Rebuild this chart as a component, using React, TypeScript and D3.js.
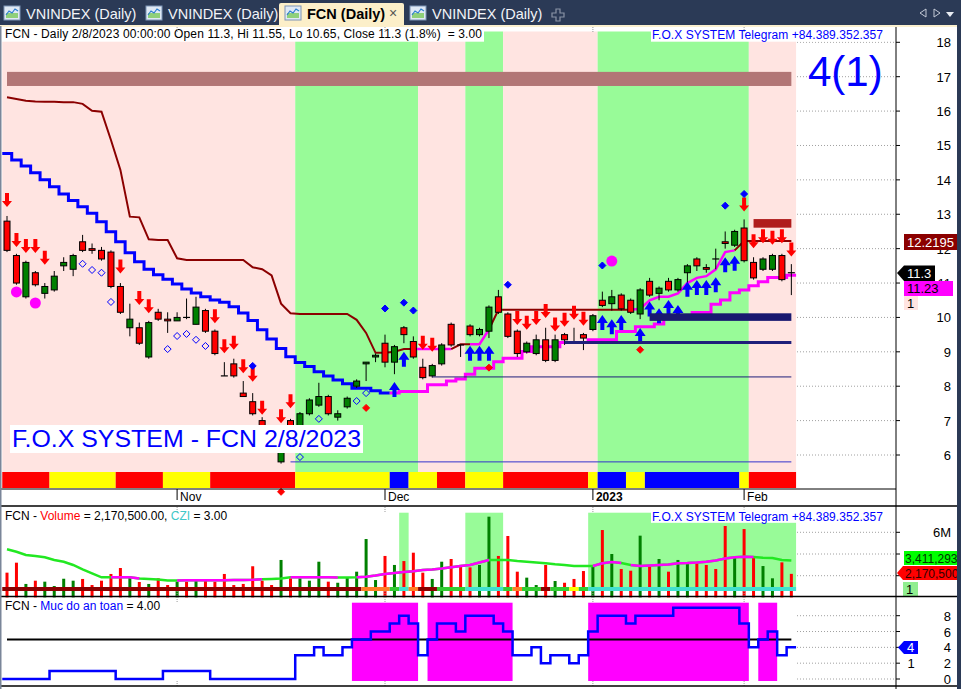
import React from "react";
import * as d3 from "d3";

const FONT = "'Liberation Sans', Arial, Helvetica, sans-serif";

// FCN daily bars, 6 Oct 2022 .. 8 Feb 2023 (thousand VND)
const opens = [12.8, 11.8, 10.6, 11.3, 10.7, 10.8, 11.5, 11.4, 12.2, 12.0, 11.95, 11.9, 10.9, 9.7, 9.7, 8.85, 10.15, 9.95, 9.9, 10.0, 9.8, 10.2, 9.6, 8.3, 8.65, 7.8, 7.55, 7.0, 6.8, 5.8, 7.0, 6.65, 7.2, 7.45, 7.7, 7.1, 7.4, 8.0, 8.65, 8.85, 9.25, 8.7, 9.7, 9.3, 8.55, 8.3, 8.65, 9.8, 9.2, 9.75, 9.5, 9.6, 10.6, 10.1, 9.6, 9.0, 8.95, 9.35, 8.75, 9.5, 9.25, 9.5, 9.65, 10.5, 10.4, 10.65, 10.5, 10.1, 11.05, 10.7, 11.05, 10.8, 11.3, 11.7, 11.45, 11.7, 12.2, 12.1, 12.6, 11.6, 11.4, 11.4, 11.8, 11.3];
const highs = [12.95, 11.85, 11.65, 11.35, 11.0, 11.35, 11.75, 11.85, 12.4, 12.15, 12.05, 11.95, 11.0, 10.4, 9.85, 9.9, 10.25, 10.15, 10.15, 10.55, 10.6, 10.25, 9.65, 8.7, 8.8, 8.15, 7.8, 7.1, 6.85, 6.2, 7.05, 7.25, 7.65, 8.1, 7.75, 7.3, 7.7, 8.2, 8.7, 8.95, 9.5, 9.2, 9.75, 9.45, 8.8, 8.65, 9.25, 9.85, 9.2, 9.8, 9.7, 10.35, 10.8, 10.15, 9.65, 9.3, 9.5, 9.7, 9.5, 9.55, 9.7, 9.55, 10.1, 10.75, 10.8, 10.7, 10.55, 10.85, 11.15, 10.9, 11.15, 11.15, 11.55, 11.75, 11.55, 12.0, 12.5, 12.55, 12.85, 11.75, 11.75, 11.85, 11.85, 11.55];
const lows = [11.9, 10.95, 10.55, 10.9, 10.55, 10.75, 11.35, 11.2, 11.9, 11.85, 11.65, 10.85, 10.1, 9.45, 9.2, 8.8, 9.9, 9.55, 9.9, 9.95, 9.8, 9.55, 8.9, 8.3, 8.25, 7.7, 7.15, 6.7, 6.3, 5.75, 6.6, 6.6, 7.15, 7.4, 7.15, 7.0, 7.35, 7.95, 8.15, 8.7, 8.55, 8.35, 9.25, 8.8, 8.2, 8.25, 8.6, 9.15, 8.85, 9.45, 9.45, 9.4, 10.1, 9.4, 8.85, 8.95, 8.9, 8.7, 8.7, 9.2, 9.25, 9.05, 9.6, 10.3, 10.2, 10.2, 10.1, 9.95, 10.6, 10.5, 10.75, 10.75, 10.8, 11.35, 11.3, 11.4, 12.0, 12.05, 11.6, 11.1, 11.35, 11.35, 11.05, 10.65];
const closes = [11.95, 11.0, 11.6, 10.95, 10.9, 11.2, 11.6, 11.8, 11.95, 11.95, 11.7, 10.9, 10.15, 9.95, 9.25, 9.85, 9.95, 9.9, 10.0, 10.0, 10.3, 9.6, 8.95, 8.3, 8.3, 7.7, 7.2, 6.75, 6.4, 6.1, 6.65, 7.2, 7.6, 7.7, 7.2, 7.2, 7.65, 8.15, 8.7, 8.9, 8.7, 9.15, 9.5, 8.85, 8.25, 8.6, 9.2, 9.2, 9.2, 9.5, 9.65, 10.3, 10.15, 9.45, 8.95, 9.25, 9.35, 8.75, 9.35, 9.35, 9.25, 9.4, 10.05, 10.35, 10.6, 10.25, 10.15, 10.8, 10.65, 10.85, 10.8, 11.1, 11.5, 11.5, 11.4, 11.7, 12.15, 12.5, 11.65, 11.15, 11.7, 11.8, 11.1, 11.3];
// volume, millions of shares
const volumes = [2.28, 3.2, 1.24, 1.54, 1.45, 1.05, 1.72, 1.54, 1.7, 1.14, 1.54, 2.16, 2.71, 1.97, 1.42, 1.24, 1.76, 1.14, 1.45, 1.45, 1.67, 1.67, 1.45, 2.16, 1.14, 1.24, 2.87, 1.54, 1.14, 3.45, 1.76, 1.76, 1.54, 3.29, 1.45, 1.35, 1.79, 2.37, 5.38, 1.6, 3.82, 2.99, 3.35, 4.12, 2.28, 1.7, 3.29, 3.54, 2.99, 2.77, 2.99, 7.44, 3.82, 5.66, 2.37, 1.82, 1.14, 2.99, 1.51, 1.35, 1.7, 2.43, 2.89, 6.21, 4.0, 2.62, 2.46, 5.69, 2.89, 3.54, 2.37, 3.45, 3.14, 3.2, 2.99, 2.62, 6.58, 3.66, 6.3, 3.7, 2.89, 1.76, 3.23, 2.1705];
const volumeAvg = [4.43, 4.21, 3.91, 3.82, 3.7, 3.45, 3.29, 2.99, 2.59, 2.22, 1.85, 1.85, 1.85, 1.85, 1.74, 1.7, 1.65, 1.56, 1.56, 1.58, 1.58, 1.58, 1.58, 1.58, 1.6, 1.6, 1.62, 1.67, 1.7, 1.74, 1.85, 1.85, 1.85, 1.85, 1.85, 1.83, 1.83, 1.85, 1.91, 2.02, 2.16, 2.25, 2.34, 2.4, 2.53, 2.58, 2.66, 2.77, 2.89, 2.99, 3.22, 3.45, 3.45, 3.45, 3.35, 3.29, 3.22, 3.14, 3.05, 2.99, 2.89, 2.89, 2.89, 3.14, 3.26, 3.17, 2.99, 2.89, 2.94, 2.99, 3.03, 3.14, 3.17, 3.22, 3.29, 3.4, 3.59, 3.7, 3.75, 3.72, 3.66, 3.63, 3.45, 3.41];
const volumeAvgRising = [[11, 14], [18, 27], [30, 35], [37, 51], [62, 65], [66, 79]];

// trailing stops
const upperStop = [16.4, 16.35, 16.3, 16.28, 16.27, 16.27, 16.26, 16.26, 16.21, 16.01, 15.98, 15.16, 14.29, 12.93, 12.91, 12.27, 12.25, 12.25, 11.72, 11.67, 11.67, 11.67, 11.67, 11.67, 11.67, 11.67, 11.46, 11.4, 11.22, 10.4, 10.12, 10.1, 10.1, 10.1, 10.1, 10.1, 10.1, 9.93, 9.55, 8.97, 8.97, 9.0, 9.08, 9.08, 9.08, 9.08, 9.08, 9.08, 9.22, 9.22, 9.22, 9.65, 10.22, 10.22, 10.22, 10.22, 10.22, 10.22, 10.22, 10.22, 10.22, 10.22, 10.22, 10.22, 10.22, 10.22, 10.22, 10.25, 10.5, 10.6, 10.6, 10.7, 11.0, 11.15, 11.2, 11.4, 11.9, 11.95, 12.22, 12.22, 12.22, 12.22, 12.22, 12.22];
const upperStopState: [string, number][] = [["M", 44], ["P", 4], ["M", 2], ["P", 2], ["M", 15], ["P", 11], ["M", 6]];
const lowerStop = [14.77, 14.58, 14.4, 14.21, 14.0, 13.8, 13.59, 13.4, 13.22, 13.03, 12.78, 12.49, 12.2, 11.88, 11.62, 11.4, 11.24, 11.11, 10.97, 10.83, 10.71, 10.6, 10.51, 10.44, 10.31, 10.13, 9.91, 9.64, 9.37, 9.1, 8.86, 8.69, 8.57, 8.42, 8.3, 8.18, 8.07, 7.94, 7.94, 7.87, 7.8, 7.8, 7.85, 7.85, 7.85, 8.04, 8.04, 8.15, 8.21, 8.35, 8.52, 8.52, 8.71, 8.81, 8.81, 9.01, 9.15, 9.15, 9.15, 9.27, 9.27, 9.27, 9.35, 9.35, 9.35, 9.59, 9.59, 9.73, 9.73, 9.81, 10.02, 10.02, 10.02, 10.14, 10.14, 10.38, 10.51, 10.72, 10.8, 10.92, 11.04, 11.16, 11.16, 11.23];
const lowerStopFlip = 41;

// signals: [bar, price]
const sellArrows = [[0, 13.21], [1, 12.05], [2, 11.87], [3, 11.87], [4, 11.53], [12, 11.28], [14, 10.36], [15, 10.12], [22, 9.83], [23, 8.96], [24, 9.06], [25, 8.38], [26, 8.13], [27, 7.17], [29, 6.92], [30, 7.36], [44, 9.06], [45, 9.0], [54, 9.78], [55, 9.64], [56, 9.78], [57, 9.98], [58, 9.59], [59, 9.73], [60, 9.93], [61, 9.76], [78, 13.08], [79, 12.01], [80, 12.16], [81, 12.11], [82, 12.16], [83, 11.77]];
const buyArrows = [[41, 8.12], [42, 9.0], [49, 9.18], [50, 9.18], [51, 9.18], [63, 10.07], [64, 9.95], [65, 10.07], [67, 9.69], [68, 10.46], [69, 10.27], [70, 10.51], [71, 10.36], [72, 11.04], [73, 11.09], [74, 11.09], [75, 11.17], [76, 11.75], [77, 11.79]];
const hollowDiamonds = [[8, 11.56], [9, 11.38], [10, 11.3], [11, 10.45], [17, 9.08], [18, 9.46], [19, 9.52], [20, 9.35], [21, 9.17], [31, 5.94], [33, 7.05], [37, 7.57], [38, 7.8]];
const blueDots = [[26, 8.59], [40, 10.26], [42, 10.43], [43, 10.2], [53, 10.95], [63, 11.51], [76, 13.25], [78, 13.59]];
const redDots = [[29, 4.93], [38, 7.37], [51, 8.54], [67, 9.06]];
const magentaDots = [[1, 10.74], [3, 10.42], [64, 11.64]];

// horizontal zones: [fromBar, toBar, top, bottom]
const topZone = [0, 83, 17.14, 16.73];
const resistZone = [79, 83, 12.86, 12.61];
const supportZone = [68, 83, 10.12, 9.9];
const supportLines = [[59, 83, 9.27, 3], [45, 83, 8.27, 1], [30, 83, 5.8, 1]];

const greenZones = [[31, 43], [49, 52], [63, 78]];
const trendStrip: [string, number][] = [["R", 5], ["Y", 7], ["R", 5], ["Y", 5], ["R", 9], ["Y", 10], ["B", 2], ["Y", 3], ["R", 3], ["Y", 4], ["R", 9], ["Y", 1], ["B", 3], ["Y", 2], ["B", 10], ["Y", 1], ["R", 5]];
const volumeStrip: [string, number][] = [["D", 38], ["O", 3], ["G", 1], ["C", 1], ["O", 1], ["D", 2], ["G", 3], ["C", 4], ["G", 1], ["O", 1], ["G", 2], ["D", 1], ["G", 2], ["Y", 1], ["G", 1], ["C", 22]];

// "Muc do an toan" safety level
const safety = [0, 0, 0, 0, 0, 1, 1, 1, 1, 1, 1, 1, 0, 0, 0, 0, 0, 1, 1, 1, 1, 1, 0, 0, 0, 0, 0, 0, 0, 0, 0, 3, 3, 4, 3, 3, 4, 5, 5, 6, 6, 7, 8, 7, 3, 5, 7, 7, 6, 8, 8, 8, 7, 6, 3, 3, 4, 2, 3, 3, 2, 3, 6, 8, 8, 8, 7, 8, 8, 8, 8, 9, 9, 9, 9, 9, 9, 9, 7, 4, 5, 6, 3, 4];
const safetyLine = 5;

const dateTicks = [18, 40, 62, 78];
const dateLabels = ["Nov", "Dec", "2023", "Feb"];
const priceTicks = [6, 7, 8, 9, 10, 11, 12, 13, 14, 15, 16, 17, 18];
const volumeTicks = [2, 4, 6];
const volumeTickLabels = ["", "", "6M"]; // 2M / 4M sit under the value tags
const safetyTicks = [0, 2, 4, 6, 8];

const tabs = [
  { label: "VNINDEX (Daily)", x: 4, active: false },
  { label: "VNINDEX (Daily)", x: 146, active: false },
  { label: "FCN (Daily)", x: 285, active: true },
  { label: "VNINDEX (Daily)", x: 410, active: false },
];

const STRIP_COL: Record<string, string> = { R: "#ff0000", Y: "#ffff00", B: "#0000ff", D: "#8b0000", O: "#ff7f27", G: "#32cd32", C: "#40e0d0" };
const expand = (spec: [string, number][]) => spec.flatMap(([c, n]) => Array(n).fill(c));
const runsOf = (arr: string[]) => {
  const out: { c: string; a: number; b: number }[] = [];
  arr.forEach((c, i) => {
    const last = out[out.length - 1];
    if (last && last.c === c) last.b = i;
    else out.push({ c, a: i, b: i });
  });
  return out;
};

const TabIcon = ({ x }: { x: number }) => (
  <g>
    <rect x={x} y={6} width={16} height={14} fill="#dfe9f5" stroke="#7d94b5" />
    <rect x={x + 2} y={13} width={12} height={5} fill="#8fd07a" />
    <polyline points={`${x + 2},15 ${x + 5},11 ${x + 8},13 ${x + 11},9 ${x + 14},11`} fill="none" stroke="#2e7fd0" strokeWidth={1.2} />
  </g>
);

export default function App() {
  const N = closes.length;
  const x = d3.scaleLinear().domain([0, N - 1]).range([7, 791.35]);
  const half = (x(1) - x(0)) / 2;
  const yP = d3.scaleLinear().domain([6, 18]).range([455, 42.3]);
  const yV = d3.scaleLinear().domain([0, 6]).range([597.4, 532.3]);
  const yS = d3.scaleLinear().domain([0, 8]).range([679, 615.7]);

  const stepPts = (vals: number[], a: number, b: number, y: (v: number) => number) => {
    const pts: [number, number][] = [];
    for (let i = a; i <= b; i++) {
      pts.push([x(i) - half, y(vals[i])], [x(i) + half, y(vals[i])]);
    }
    return d3.line()(pts) || "";
  };
  const segPath = (vals: number[], a: number, b: number, y: (v: number) => number) => {
    const pts: [number, number][] = [];
    for (let i = Math.max(0, a - 1); i <= b; i++) pts.push([x(i), y(vals[i])]);
    return d3.line()(pts) || "";
  };

  const stateRuns = runsOf(expand(upperStopState));
  const stripRuns = runsOf(expand(trendStrip));
  const volRuns = runsOf(expand(volumeStrip));
  const bandRuns = runsOf(closes.map((_, i) => (greenZones.some(([a, b]) => i >= a && i <= b) ? "g" : "p")));
  const safetyRuns = runsOf(safety.map((v) => (v >= safetyLine ? "m" : "-")));

  const AX = 896;
  const gridX1 = 797;
  const lbl = { fontFamily: FONT, fontSize: 13, fill: "#000" } as const;

  const downArrow = (cx: number, ty: number) =>
    `M${cx},${ty} L${cx - 5},${ty - 6} L${cx - 2},${ty - 6} L${cx - 2},${ty - 14} L${cx + 2},${ty - 14} L${cx + 2},${ty - 6} L${cx + 5},${ty - 6} Z`;
  const upArrow = (cx: number, ty: number) =>
    `M${cx},${ty} L${cx - 5.5},${ty + 8} L${cx - 2},${ty + 8} L${cx - 2},${ty + 15} L${cx + 2},${ty + 15} L${cx + 2},${ty + 8} L${cx + 5.5},${ty + 8} Z`;
  const diamond = (cx: number, cy: number, r: number) => `M${cx},${cy - r} L${cx + r},${cy} L${cx},${cy + r} L${cx - r},${cy} Z`;

  return (
    <div>
      <style>{`body{margin:0;background:#fff}`}</style>
      <svg width={961} height={689} style={{ display: "block" }} fontFamily={FONT}>
        <rect x={0} y={0} width={961} height={689} fill="#fff" />

        {/* ---------- tab bar ---------- */}
        <rect x={0} y={0} width={961} height={26} fill="#2b3a56" />
        <rect x={0} y={25} width={961} height={2} fill="#fbf0cf" />
        {tabs.map((t) => (
          <g key={t.x}>
            {t.active && <path d={`M${t.x - 6},27 L${t.x - 6},5 Q${t.x - 6},3 ${t.x - 4},3 L${t.x + 117},3 Q${t.x + 119},3 ${t.x + 119},5 L${t.x + 119},27 Z`} fill="#fcefc9" />}
            <TabIcon x={t.x} />
            <text x={t.x + 22} y={19} fontSize={14.5} fontWeight={t.active ? 700 : 400} fill={t.active ? "#000" : "#f2f4f8"}>
              {t.label}
            </text>
            {t.active && (
              <text x={t.x + 104} y={18} fontSize={14} fill="#555">
                ×
              </text>
            )}
          </g>
        ))}
        <path d="M552,9 h4 v-4 h4 v4 h4 v4 h-4 v4 h-4 v-4 h-4 Z" fill="none" stroke="#8a93a6" strokeWidth={1.2} transform="translate(0,4)" />
        <path d="M926,9 L920,13 L926,17 Z" fill="none" stroke="#c4cad6" />
        <path d="M934,9 L940,13 L934,17 Z" fill="none" stroke="#c4cad6" />
        <path d="M946,12 L954,12 L950,17 Z" fill="#e8ecf2" />

        {/* ---------- price pane ---------- */}
        {bandRuns.map((r) => (
          <rect key={r.a} x={x(r.a) - half} y={31.5} width={x(r.b) - x(r.a) + 2 * half} height={472 - 31.5} fill={r.c === "g" ? "#98fb98" : "#ffe4e1"} />
        ))}
        {priceTicks.map((t) => (
          <line key={t} x1={gridX1} x2={AX} y1={yP(t)} y2={yP(t)} stroke="#a0a0a0" strokeDasharray="1,2" />
        ))}
        <rect x={x(topZone[0])} y={yP(topZone[2])} width={x(topZone[1]) - x(topZone[0])} height={yP(topZone[3]) - yP(topZone[2])} fill="#b27676" />

        {/* lower trailing stop: blue in downtrend, magenta after flip */}
        <path d={stepPts(lowerStop, 0, lowerStopFlip - 1, yP)} fill="none" stroke="#0000ff" strokeWidth={3} />
        <path d={stepPts(lowerStop, lowerStopFlip, N - 1, yP)} fill="none" stroke="#ff00ff" strokeWidth={3} />
        {/* upper stop line */}
        {stateRuns.map((r) => (
          <path key={r.a} d={segPath(upperStop, r.a, r.b, yP)} fill="none" stroke={r.c === "M" ? "#8b0000" : "#ff00ff"} strokeWidth={r.c === "M" ? 2 : 2.5} />
        ))}

        {/* candles */}
        {closes.map((c, i) => {
          const o = opens[i];
          const up = c > o;
          const top = yP(Math.max(o, c));
          const bot = yP(Math.min(o, c));
          return (
            <g key={i}>
              <line x1={x(i)} x2={x(i)} y1={yP(highs[i])} y2={yP(lows[i])} stroke="#000" />
              {bot - top < 1 ? (
                <line x1={x(i) - 3.5} x2={x(i) + 3.5} y1={top} y2={top} stroke="#000" strokeWidth={1.2} />
              ) : (
                <rect x={x(i) - 3} y={top} width={6} height={bot - top} fill={up ? "#008000" : "#ff0000"} stroke="#000" />
              )}
            </g>
          );
        })}

        {sellArrows.map(([i, v]) => (
          <path key={"s" + i} d={downArrow(x(i), yP(v))} fill="#ff0000" />
        ))}
        {buyArrows.map(([i, v]) => (
          <path key={"b" + i} d={upArrow(x(i), yP(v))} fill="#0000ff" />
        ))}
        {hollowDiamonds.map(([i, v]) => (
          <path key={"h" + i} d={diamond(x(i), yP(v), 3.5)} fill="none" stroke="#0000ff" />
        ))}
        {blueDots.map(([i, v]) => (
          <path key={"bd" + i} d={diamond(x(i), yP(v), 3.5)} fill="#0000ff" stroke="#0000ff" />
        ))}
        {redDots.map(([i, v]) => (
          <path key={"rd" + i} d={diamond(x(i), yP(v), 3.5)} fill="#ff0000" stroke="#ff0000" />
        ))}
        {magentaDots.map(([i, v]) => (
          <circle key={"m" + i} cx={x(i)} cy={yP(v)} r={5.5} fill="#ff00ff" />
        ))}

        {/* support / resistance zones */}
        <rect x={x(resistZone[0])} y={yP(resistZone[2])} width={x(resistZone[1]) - x(resistZone[0])} height={yP(resistZone[3]) - yP(resistZone[2])} fill="#b01c1c" />
        <rect x={x(supportZone[0])} y={yP(supportZone[2])} width={x(supportZone[1]) - x(supportZone[0])} height={yP(supportZone[3]) - yP(supportZone[2])} fill="#191970" />
        {supportLines.map(([a, b, v, w], k) => (
          <line key={k} x1={x(a)} x2={x(b)} y1={yP(v)} y2={yP(v)} stroke={k === 2 ? "#3333cc" : "#1f1f7a"} strokeWidth={w} />
        ))}

        {/* trend strip */}
        {stripRuns.map((r) => (
          <rect key={r.a} x={x(r.a) - half} y={472} width={x(r.b) - x(r.a) + 2 * half} height={16} fill={STRIP_COL[r.c]} />
        ))}

        {/* captions */}
        <rect x={0} y={27} width={484} height={14.7} fill="#fff" />
        <text x={5} y={38} fontSize={12} fill="#000" textLength={477} lengthAdjust="spacing">
          FCN - Daily 2/8/2023 00:00:00 Open 11.3, Hi 11.55, Lo 10.65, Close 11.3 (1.8%){"\u00a0\u00a0"}= 3.00
        </text>
        <rect x={651} y={28} width={233} height={13.7} fill="#fff" />
        <text x={652} y={39} fontSize={12} fill="#0000ff" textLength={231} lengthAdjust="spacing">
          F.O.X SYSTEM Telegram +84.389.352.357
        </text>
        <text x={808} y={86} fontSize={42} fill="#0000ff">
          4(1)
        </text>
        <rect x={10} y={425} width={353} height={28} fill="#fff" />
        <text x={12} y={447} fontSize={24} fill="#0000ff" textLength={349} lengthAdjust="spacingAndGlyphs">
          F.O.X SYSTEM - FCN 2/8/2023
        </text>

        {/* date axis */}
        <line x1={0} x2={AX} y1={489} y2={489} stroke="#000" />
        {dateTicks.map((i, k) => (
          <g key={i}>
            <line x1={x(i)} x2={x(i)} y1={489} y2={500} stroke="#000" />
            <line x1={x(i)} x2={x(i)} y1={27} y2={32} stroke="#999" strokeDasharray="1,1" />
            <text x={x(i) + 3} y={501} fontSize={12} fontWeight={dateLabels[k] === "2023" ? 700 : 400}>
              {dateLabels[k]}
            </text>
          </g>
        ))}

        {/* price axis */}
        {priceTicks.map((t) => (
          <g key={t}>
            <line x1={AX} x2={AX + 4} y1={yP(t)} y2={yP(t)} stroke="#000" />
            <text x={951} y={yP(t) + 5} textAnchor="end" {...lbl}>
              {t}
            </text>
          </g>
        ))}
        <rect x={904} y={234} width={53} height={16} fill="#8b0000" />
        <text x={907} y={247} {...lbl} fill="#fff">
          12.2195
        </text>
        <path d="M897,273 L904,265.5 L935,265.5 L935,281 L904,281 Z" fill="#000" />
        <text x={907} y={278} {...lbl} fill="#fff">
          11.3
        </text>
        <rect x={904} y={281} width={49} height={15} fill="#ff00ff" />
        <text x={907} y={293} {...lbl}>
          11.23
        </text>
        <rect x={904} y={296} width={14} height={14} fill="#ffe4e1" />
        <text x={907} y={308} {...lbl}>
          1
        </text>

        {/* ---------- volume pane ---------- */}
        <line x1={0} x2={957} y1={506} y2={506} stroke="#000" strokeWidth={1.5} />
        {volRuns
          .filter((r) => r.c === "C")
          .map((r) => (
            <rect key={r.a} x={x(r.a) - half} y={512.7} width={x(r.b) - x(r.a) + 2 * half} height={78} fill="#98fb98" />
          ))}
        {volumeTicks.map((t, k) => (
          <g key={t}>
            <line x1={gridX1} x2={AX} y1={yV(t)} y2={yV(t)} stroke="#a0a0a0" strokeDasharray="1,2" />
            <line x1={AX} x2={AX + 4} y1={yV(t)} y2={yV(t)} stroke="#000" />
            {volumeTickLabels[k] && (
              <text x={951} y={yV(t) + 5} textAnchor="end" {...lbl}>
                {volumeTickLabels[k]}
              </text>
            )}
          </g>
        ))}
        {volumes.map((v, i) => (
          <rect key={i} x={x(i) - 1.5} y={yV(v)} width={3} height={yV(0) - yV(v)} fill={closes[i] > opens[i] ? "#008000" : "#ff0000"} />
        ))}
        <path d={d3.line<number>().x((_, i) => x(i)).y((d) => yV(d))(volumeAvg) || ""} fill="none" stroke="#22e822" strokeWidth={2.5} />
        {volumeAvgRising.map(([a, b]) => (
          <path key={a} d={segPath(volumeAvg, a + 1, b, yV)} fill="none" stroke="#ff00ff" strokeWidth={2.5} />
        ))}
        {volRuns.map((r) => (
          <rect key={r.a} x={x(r.a) - half} y={587} width={x(r.b) - x(r.a) + 2 * half} height={4} fill={STRIP_COL[r.c]} />
        ))}
        {dateTicks.map((i) => (
          <g key={i}>
            <line x1={x(i)} x2={x(i)} y1={507} y2={512} stroke="#999" strokeDasharray="1,1" />
            <line x1={x(i)} x2={x(i)} y1={591} y2={596} stroke="#999" strokeDasharray="1,1" />
          </g>
        ))}
        <text x={5} y={520} fontSize={12}>
          FCN - <tspan fill="#ff0000">Volume</tspan> = 2,170,500.00, <tspan fill="#40c8c8">CZI</tspan> = 3.00
        </text>
        <rect x={651} y={509.5} width={233} height={13.3} fill="#fff" />
        <text x={652} y={520.5} fontSize={12} fill="#0000ff" textLength={231} lengthAdjust="spacing">
          F.O.X SYSTEM Telegram +84.389.352.357
        </text>
        <rect x={904} y={551} width={53} height={14} fill="#00ff00" />
        <text x={905} y={563} fontFamily={FONT} fontSize={12} fill="#003300">
          3,411,293
        </text>
        <path d="M897,573 L903,566 L957,566 L957,580 L903,580 Z" fill="#ff0000" />
        <text x={905} y={578} fontFamily={FONT} fontSize={12} fill="#300000">
          2,170,500
        </text>
        <rect x={903} y={582} width={15} height={14} fill="#90ee90" />
        <text x={906} y={594} {...lbl}>
          1
        </text>

        {/* ---------- safety pane ---------- */}
        <line x1={0} x2={957} y1={596.5} y2={596.5} stroke="#000" strokeWidth={1.5} />
        {safetyRuns
          .filter((r) => r.c === "m")
          .map((r) => (
            <rect key={r.a} x={x(r.a) - half} y={602.7} width={x(r.b) - x(r.a) + 2 * half} height={78.3} fill="#ff00ff" />
          ))}
        {safetyTicks.map((t) => (
          <g key={t}>
            <line x1={gridX1} x2={AX} y1={yS(t)} y2={yS(t)} stroke="#a0a0a0" strokeDasharray="1,2" />
            <line x1={AX} x2={AX + 4} y1={yS(t)} y2={yS(t)} stroke="#000" />
            <text x={951} y={yS(t) + 5} textAnchor="end" {...lbl}>
              {t}
            </text>
          </g>
        ))}
        <line x1={x(0)} x2={x(N - 1)} y1={yS(safetyLine)} y2={yS(safetyLine)} stroke="#000" strokeWidth={2} />
        <path d={stepPts(safety, 0, N - 1, yS)} fill="none" stroke="#0000ff" strokeWidth={2.5} />
        {dateTicks.map((i) => (
          <g key={i}>
            <line x1={x(i)} x2={x(i)} y1={597} y2={602} stroke="#999" strokeDasharray="1,1" />
            <line x1={x(i)} x2={x(i)} y1={681} y2={686} stroke="#999" strokeDasharray="1,1" />
          </g>
        ))}
        <text x={5} y={610} fontSize={12}>
          FCN - <tspan fill="#0000ff">Muc do an toan</tspan> = 4.00
        </text>
        <path d="M898,647.5 L904,641 L918,641 L918,654 L904,654 Z" fill="#0000ff" />
        <text x={907} y={652} {...lbl} fill="#fff">
          4
        </text>
        <text x={911} y={668} textAnchor="middle" {...lbl}>
          1
        </text>
        <line x1={0} x2={957} y1={686} y2={686} stroke="#000" strokeWidth={1.5} />

        {/* frame */}
        <line x1={AX} x2={AX} y1={27} y2={689} stroke="#000" />
        <rect x={0} y={26} width={1.5} height={663} fill="#7a8699" />
        <rect x={957} y={0} width={4} height={689} fill="#2b3a56" />
      </svg>
    </div>
  );
}
